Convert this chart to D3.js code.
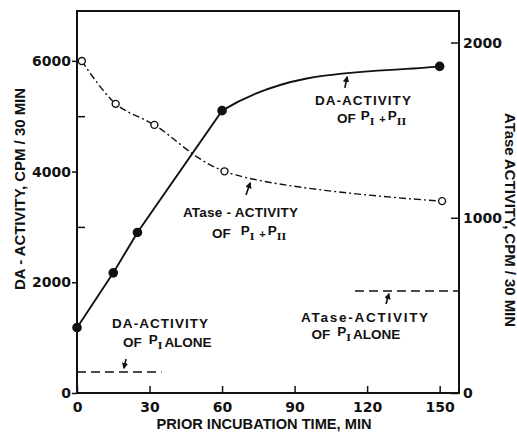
<!DOCTYPE html>
<html>
<head>
<meta charset="utf-8">
<script src="https://cdn.jsdelivr.net/npm/d3@7"></script>
<style>
body { margin: 0; background: #fff; }
text { font-family: "Liberation Sans", Arial, sans-serif; font-weight: bold; fill: #111; }
.sub { font-family: "DejaVu Serif", serif; font-size: 10px; }
.plus { font-size: 11px; }
.axis line { stroke: #111; stroke-width: 1.5; }
.axis text { font-family: "DejaVu Sans", sans-serif; font-size: 14px; }
.note { font-size: 13.5px; }
.title { font-size: 14px; }
</style>
</head>
<body>
<div id="chart"></div>
<script>
// prior incubation time (min) vs activity (cpm / 30 min)
var daTime = [0, 15, 25, 60, 150];
var daActivity = [1180, 2170, 2900, 5100, 5900];
var atTime = [2, 16, 32, 61, 151];
var atActivity = [1895, 1650, 1530, 1265, 1095];
// P-I alone levels (dashed)
var daAloneTime = [0, 35];
var daAloneActivity = [380, 380];
var atAloneTime = [115, 158];
var atAloneActivity = [582, 582];

var xTicks = [0, 30, 60, 90, 120, 150];
var yLeftTicks = [0, 2000, 4000, 6000];
var yLeftMinor = [3000, 5000];
var yRightTicks = [0, 1000, 2000];

var margin = { top: 11, right: 58, bottom: 39, left: 77 };
var width = 517 - margin.left - margin.right;
var height = 432 - margin.top - margin.bottom;

var svg = d3.select("#chart").append("svg")
    .attr("width", 517)
    .attr("height", 432);
var g = svg.append("g")
    .attr("transform", "translate(" + margin.left + "," + margin.top + ")");

var x = d3.scaleLinear().domain([0, 158]).range([0, width]);
var yL = d3.scaleLinear().domain([0, 6900]).range([height, 0]);
var yR = d3.scaleLinear().domain([0, 2180]).range([height, 0]);

function zip(a, b) {
    return a.map(function (d, i) { return [d, b[i]]; });
}

// frame
g.append("rect")
    .attr("width", width)
    .attr("height", height)
    .attr("fill", "none")
    .attr("stroke", "#111")
    .attr("stroke-width", 2);

// axes
var fmt = d3.format("d");
g.append("g")
    .attr("class", "axis")
    .attr("transform", "translate(0," + height + ")")
    .call(d3.axisBottom(x).tickValues(xTicks).tickFormat(fmt).tickSizeInner(-7).tickSizeOuter(0).tickPadding(9));
g.append("g")
    .attr("class", "axis")
    .call(d3.axisLeft(yL).tickValues(yLeftTicks).tickFormat(fmt).tickSizeInner(5).tickSizeOuter(0).tickPadding(1));
g.append("g")
    .attr("class", "axis")
    .call(d3.axisLeft(yL).tickValues(yLeftMinor).tickSizeInner(-8).tickSizeOuter(0).tickFormat(""));
g.append("g")
    .attr("class", "axis")
    .attr("transform", "translate(" + width + ",0)")
    .call(d3.axisRight(yR).tickValues(yRightTicks).tickFormat(fmt).tickSizeInner(-8).tickSizeOuter(0).tickPadding(4));
g.selectAll(".axis .domain").remove();

// axis titles
svg.append("text").attr("class", "title")
    .attr("x", 264)
    .attr("y", 429)
    .attr("text-anchor", "middle")
    .attr("textLength", 215).attr("lengthAdjust", "spacingAndGlyphs")
    .text("PRIOR INCUBATION TIME, MIN");
svg.append("text").attr("class", "title")
    .attr("transform", "translate(25,189) rotate(-90)")
    .attr("text-anchor", "middle")
    .attr("textLength", 202).attr("lengthAdjust", "spacingAndGlyphs")
    .text("DA - ACTIVITY, CPM / 30 MIN");
svg.append("text").attr("class", "title")
    .attr("transform", "translate(505,220) rotate(90)")
    .attr("text-anchor", "middle")
    .attr("textLength", 214).attr("lengthAdjust", "spacingAndGlyphs")
    .text("ATase ACTIVITY, CPM / 30 MIN");

// lines
var lineL = d3.line()
    .x(function (d) { return x(d[0]); })
    .y(function (d) { return yL(d[1]); });
var lineR = d3.line()
    .x(function (d) { return x(d[0]); })
    .y(function (d) { return yR(d[1]); });

// DA curve: straight rise to the 60 min point, then a Hermite segment
// (start slope 3x the last chord, end slope half of it) that levels off
function daPath() {
    var pts = zip(daTime, daActivity);
    var n = pts.length;
    var p = d3.path();
    p.moveTo(x(pts[0][0]), yL(pts[0][1]));
    for (var i = 1; i < n - 1; i++) p.lineTo(x(pts[i][0]), yL(pts[i][1]));
    var a = pts[n - 2], b = pts[n - 1];
    var h = b[0] - a[0];
    var chord = (b[1] - a[1]) / h;
    var m0 = 3 * chord, m1 = chord / 2;
    p.bezierCurveTo(
        x(a[0] + h / 3), yL(a[1] + m0 * h / 3),
        x(b[0] - h / 3), yL(b[1] - m1 * h / 3),
        x(b[0]), yL(b[1]));
    return p.toString();
}

g.append("path")
    .datum(zip(daAloneTime, daAloneActivity))
    .attr("d", lineL)
    .attr("fill", "none").attr("stroke", "#111").attr("stroke-width", 1.6)
    .attr("stroke-dasharray", "9,5");
g.append("path")
    .datum(zip(atAloneTime, atAloneActivity))
    .attr("d", lineR)
    .attr("fill", "none").attr("stroke", "#111").attr("stroke-width", 1.6)
    .attr("stroke-dasharray", "9,5");
g.append("path")
    .datum(zip(atTime, atActivity))
    .attr("d", lineR.curve(d3.curveCatmullRom.alpha(0.5)))
    .attr("fill", "none").attr("stroke", "#111").attr("stroke-width", 1.4)
    .attr("stroke-dasharray", "7,3,2,3");
g.append("path")
    .attr("d", daPath())
    .attr("fill", "none").attr("stroke", "#111").attr("stroke-width", 1.9);

// points
g.selectAll(".at-dot")
    .data(zip(atTime, atActivity))
    .enter().append("circle")
    .attr("class", "at-dot")
    .attr("cx", function (d) { return x(d[0]); })
    .attr("cy", function (d) { return yR(d[1]); })
    .attr("r", 3.5)
    .attr("fill", "#fff").attr("stroke", "#111").attr("stroke-width", 1.4);
g.selectAll(".da-dot")
    .data(zip(daTime, daActivity))
    .enter().append("circle")
    .attr("class", "da-dot")
    .attr("cx", function (d) { return x(d[0]); })
    .attr("cy", function (d) { return yL(d[1]); })
    .attr("r", 4.8)
    .attr("fill", "#111");

// annotations (positions in data units)
svg.append("defs").append("marker")
    .attr("id", "head")
    .attr("viewBox", "0 0 10 10")
    .attr("refX", 8).attr("refY", 5)
    .attr("markerWidth", 4).attr("markerHeight", 4)
    .attr("orient", "auto")
    .append("path").attr("d", "M0,0L10,5L0,10z").attr("fill", "#111");

function arrow(t1, v1, t2, v2, y) {
    g.append("line")
        .attr("x1", x(t1)).attr("y1", y(v1))
        .attr("x2", x(t2)).attr("y2", y(v2))
        .attr("stroke", "#111").attr("stroke-width", 1.6)
        .attr("marker-end", "url(#head)");
}

function label(t, v, y, text, len) {
    return g.append("text").attr("class", "note")
        .attr("x", x(t)).attr("y", y(v))
        .attr("textLength", len).attr("lengthAdjust", "spacing")
        .text(text);
}

// "OF P_I + P_II" or "OF P_I ALONE"
function ofLine(t, v, y, gap, both) {
    var s = g.append("text").attr("class", "note").attr("x", x(t)).attr("y", y(v));
    s.append("tspan").text("OF");
    s.append("tspan").attr("dx", gap).attr("dy", -3).text("P");
    s.append("tspan").attr("class", "sub").attr("dy", 5).text("I");
    if (both) {
        s.append("tspan").attr("class", "plus").attr("dx", 5).attr("dy", -2).text("+");
        s.append("tspan").attr("dx", 2).attr("dy", -3).text("P");
        s.append("tspan").attr("class", "sub").attr("dy", 5).text("II");
    } else {
        s.append("tspan").attr("dx", 2).attr("dy", -2).text("ALONE");
    }
}

label(98.4, 5200, yL, "DA-ACTIVITY", 96);
ofLine(107.5, 4880, yL, 5, true);
arrow(110.8, 5510, 111.7, 5708, yL);

label(43.8, 1004, yR, "ATase - ACTIVITY", 115);
ofLine(55.8, 885, yR, 10, true);
arrow(69.9, 1130, 71.6, 1198, yR);

label(14.5, 1174, yL, "DA-ACTIVITY", 96);
ofLine(19, 825, yL, 7, false);
arrow(20.3, 614, 19.4, 452, yL);

label(92.7, 405, yR, "ATase-ACTIVITY", 127);
ofLine(97, 310, yR, 7, false);
arrow(127.8, 508, 129, 565, yR);
</script>
</body>
</html>
